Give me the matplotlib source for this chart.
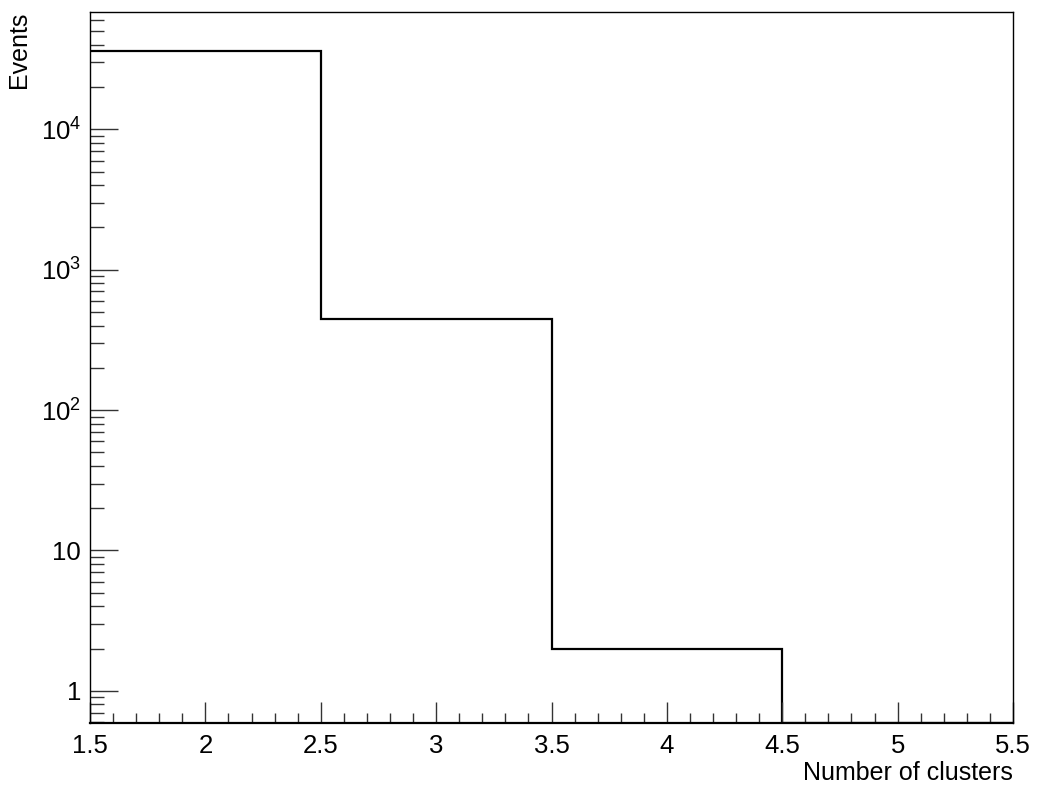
import numpy as np
import matplotlib
matplotlib.use("Agg")
import matplotlib.pyplot as plt
from matplotlib.ticker import FixedLocator, FuncFormatter, MultipleLocator, LogLocator, NullFormatter

plt.rcParams['font.family'] = ['Liberation Sans', 'DejaVu Sans']
plt.rcParams['mathtext.fontset'] = 'custom'
plt.rcParams['mathtext.rm'] = 'Liberation Sans'
plt.rcParams['mathtext.it'] = 'Liberation Sans:italic'

# data
bin_edges = [1.5, 2.5, 3.5, 4.5, 5.5]
counts = [36000, 445, 2, 0]
x_label = "Number of clusters"
y_label = "Events"
y_major = [1, 10, 100, 1000, 10000]
y_tick_labels = ["1", "10", r"$\mathregular{10^{2}}$", r"$\mathregular{10^{3}}$", r"$\mathregular{10^{4}}$"]

ymin, ymax = 0.59, 68600

fig = plt.figure(figsize=(10.38, 7.93), dpi=100)
ax = fig.add_axes([90/1038, 1 - 723/793, (1013-90)/1038, (723-12)/793])

vals = np.clip(np.array(counts, dtype=float), ymin, None)
ax.stairs(vals, bin_edges, baseline=None, color='black', linewidth=1.6)

ax.set_yscale('log')
ax.set_xlim(bin_edges[0], bin_edges[-1])
ax.set_ylim(ymin, ymax)

ax.xaxis.set_major_locator(MultipleLocator(0.5))
ax.xaxis.set_minor_locator(MultipleLocator(0.1))
ax.xaxis.set_major_formatter(FuncFormatter(lambda v, p: f"{v:g}"))

ax.yaxis.set_major_locator(FixedLocator(y_major))
ax.yaxis.set_major_formatter(FuncFormatter(lambda v, p: y_tick_labels[y_major.index(min(y_major, key=lambda m: abs(np.log10(m) - np.log10(v))))]))
ax.yaxis.set_minor_locator(LogLocator(base=10, subs=np.arange(2, 10), numticks=20))
ax.yaxis.set_minor_formatter(NullFormatter())

ax.tick_params(axis='both', which='both', direction='in', top=False, right=False, width=1.0, color='#333333')
ax.tick_params(axis='x', which='major', length=15, pad=8, labelsize=18.5)
ax.tick_params(axis='x', which='minor', length=7.4)
ax.tick_params(axis='y', which='major', length=20, pad=6.5, labelsize=18.5)
ax.tick_params(axis='y', which='minor', length=10)

for s in ax.spines.values():
    s.set_linewidth(1.0)
ax.spines['bottom'].set_linewidth(1.6)

ax.set_xlabel(x_label, fontsize=18, loc='right', labelpad=2)
ax.set_ylabel(y_label, fontsize=18, loc='top', labelpad=7)

fig.savefig("out.png", dpi=100)
